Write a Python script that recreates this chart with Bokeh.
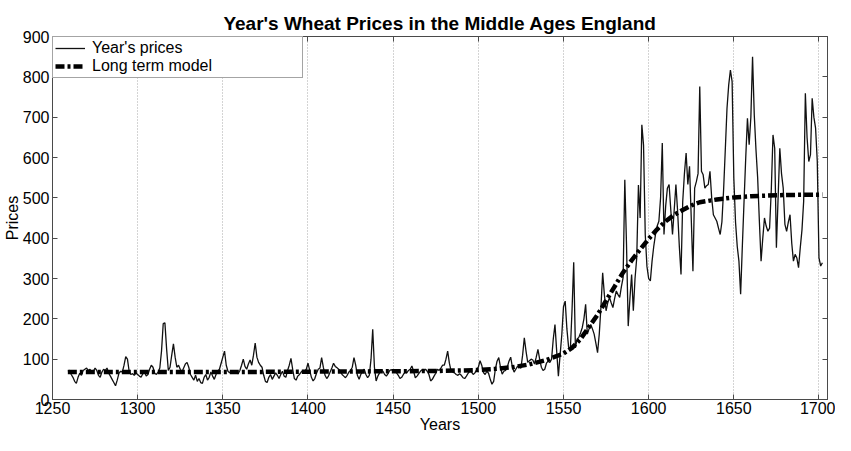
from bokeh.plotting import figure
from bokeh.models import LinearAxis, FixedTicker, Legend, LegendItem, Range1d
from bokeh.embed import file_html
from bokeh.resources import INLINE

# ---------------- data ----------------
first_year = 1259

prices_1259_1299 = [70, 72, 62, 55, 45, 40, 55, 65, 60, 72, 75,
                    78, 72, 75, 65, 70, 78, 72, 60, 55, 68,
                    75, 72, 78, 65, 58, 50, 42, 34, 48, 65,
                    70, 68, 85, 106, 100, 70, 62, 64, 60, 66]

prices_1300s = [62, 58, 55, 64, 70, 58, 62, 75, 85, 80,
                65, 62, 68, 78, 120, 188, 190, 125, 72, 80,
                110, 138, 105, 80, 85, 75, 68, 78, 88, 92,
                80, 62, 55, 48, 60, 45, 52, 42, 40, 55,
                62, 48, 55, 68, 58, 50, 62, 70, 75, 90,
                105, 120, 85, 70, 66, 72, 65, 70, 68, 64,
                72, 85, 100, 82, 75, 88, 98, 85, 110, 140,
                105, 92, 85, 80, 60, 45, 42, 55, 62, 50,
                58, 66, 60, 52, 62, 70, 58, 55, 72, 85,
                102, 75, 52, 48, 58, 62, 68, 72, 70, 75]

prices_1400s = [90, 72, 55, 46, 52, 65, 75, 78, 104, 80,
                60, 52, 58, 68, 78, 90, 82, 79, 75, 71,
                62, 58, 54, 60, 68, 72, 80, 104, 85, 60,
                50, 62, 70, 75, 62, 54, 60, 100, 174, 80,
                46, 58, 66, 72, 70, 62, 58, 64, 72, 74,
                70, 72, 66, 60, 52, 55, 62, 68, 66, 72,
                75, 83, 70, 54, 58, 64, 70, 74, 72, 75,
                70, 62, 46, 50, 58, 65, 75, 72, 78, 85,
                85, 100, 120, 90, 71, 68, 66, 62, 60, 64,
                60, 54, 52, 58, 65, 70, 68, 62, 66, 74]

prices_1500s = [80, 96, 85, 67, 62, 70, 65, 50, 38, 45,
                75, 95, 104, 80, 63, 70, 72, 80, 95, 105,
                80, 68, 75, 82, 80, 78, 110, 153, 120, 92,
                96, 100, 98, 88, 105, 124, 100, 80, 72, 75,
                90, 95, 92, 100, 150, 186, 120, 58, 110, 160,
                230, 244, 175, 130, 121, 220, 340, 128, 150, 154,
                165, 178, 200, 236, 162, 175, 186, 175, 162, 140,
                116, 162, 230, 314, 260, 220, 240, 253, 240, 228,
                250, 269, 260, 253, 280, 302, 545, 384, 182, 250,
                310, 220, 300, 351, 532, 450, 681, 630, 409, 330]

prices_1600s = [300, 294, 343, 380, 409, 430, 442, 500, 636, 409,
                480, 524, 533, 470, 409, 470, 533, 467, 380, 310,
                491, 560, 611, 533, 578, 450, 318, 524, 540, 560,
                776, 566, 557, 524, 530, 533, 566, 500, 458, 450,
                442, 425, 409, 440, 520, 620, 722, 780, 817, 788,
                549, 440, 380, 343, 261, 380, 491, 600, 697, 632,
                700, 850, 706, 620, 549, 442, 343, 400, 450, 430,
                417, 425, 520, 656, 623, 376, 500, 623, 560, 524,
                434, 417, 440, 458, 388, 343, 360, 351, 327, 376,
                420, 491, 759, 650, 590, 607, 747, 700, 673, 590,
                351, 331, 339]

prices = prices_1259_1299 + prices_1300s + prices_1400s + prices_1500s + prices_1600s
years = list(range(first_year, first_year + len(prices)))

model_years = [1259, 1300, 1350, 1400, 1450, 1480, 1500, 1510, 1520, 1530, 1540,
               1550, 1555, 1560, 1565, 1570, 1575, 1580, 1585, 1590, 1595, 1600,
               1605, 1610, 1615, 1620, 1625, 1630, 1640, 1650, 1660, 1680, 1702]
model_values = [68, 68, 68, 69, 70, 71, 73, 76, 80, 87, 98,
                114, 128, 150, 180, 210, 245, 280, 315, 345, 372, 398,
                422, 442, 458, 470, 481, 489, 496, 501, 504, 507, 508]

x_ticks = [1250, 1300, 1350, 1400, 1450, 1500, 1550, 1600, 1650, 1700]
y_ticks = [0, 100, 200, 300, 400, 500, 600, 700, 800, 900]

title_text = "Year's Wheat Prices in the Middle Ages England"
x_label = "Years"
y_label = "Prices"
series_labels = ["Year's prices", "Long term model"]

# ---------------- figure ----------------
FONT = "Liberation Sans"
AX = "#4a4a4a"

p = figure(width=835, height=435, output_backend="svg", toolbar_location=None,
           x_range=Range1d(1250, 1705), y_range=Range1d(0, 900),
           min_border_left=36, min_border_right=8, min_border_top=36, min_border_bottom=30,
           title=title_text)

p.title.text_font = FONT
p.title.text_font_size = "19px"
p.title.text_font_style = "bold"
p.title.align = "center"
p.title.text_color = "black"
p.title.standoff = 5

p.outline_line_color = AX
p.outline_line_alpha = 1.0
p.background_fill_color = "white"
p.border_fill_color = "white"

def style_axis(ax, ticks, show_labels=True):
    ax.ticker = FixedTicker(ticks=ticks)
    ax.axis_line_color = AX
    ax.major_tick_line_color = AX
    ax.major_tick_in = 5
    ax.major_tick_out = 0
    ax.minor_tick_line_color = None
    ax.major_label_text_font = FONT
    ax.major_label_text_color = "black"
    if show_labels:
        ax.major_label_text_font_size = "16px"
        ax.major_label_standoff = 3
    else:
        ax.major_label_text_font_size = "0px"
        ax.major_label_overrides = {t: "" for t in ticks}
        ax.major_label_standoff = 0

style_axis(p.below[0], x_ticks)
style_axis(p.left[0], y_ticks)
p.below[0].major_label_standoff = 2
p.below[0].axis_label = x_label
p.left[0].axis_label = y_label
for ax in (p.below[0], p.left[0]):
    ax.axis_label_text_font = FONT
    ax.axis_label_text_font_size = "16px"
    ax.axis_label_text_font_style = "normal"
    ax.axis_label_text_color = "black"
p.below[0].axis_label_standoff = -1
p.left[0].axis_label_standoff = -1

top_axis = LinearAxis()
style_axis(top_axis, x_ticks, show_labels=False)
p.add_layout(top_axis, "above")
right_axis = LinearAxis()
style_axis(right_axis, y_ticks, show_labels=False)
p.add_layout(right_axis, "right")

p.xgrid.ticker = FixedTicker(ticks=x_ticks)
p.xgrid.grid_line_color = "#a8a8a8"
p.xgrid.grid_line_dash = "1 2"
p.xgrid.grid_line_width = 1
p.ygrid.visible = False

r_data = p.line(years, prices, line_color="#111111", line_width=1.3)
r_model = p.line(model_years, model_values, line_color="black", line_width=4.5,
                 line_dash="9 3 3 3")

legend = Legend(items=[LegendItem(label=series_labels[0], renderers=[r_data]),
                       LegendItem(label=series_labels[1], renderers=[r_model])],
                location="top_left", margin=0, padding=2, spacing=-3,
                glyph_width=30, glyph_height=14, label_height=14,
                label_standoff=7, label_width=208,
                border_line_color=AX, border_line_width=1,
                background_fill_color="white", background_fill_alpha=1.0,
                label_text_font=FONT, label_text_font_size="16px",
                label_text_color="black")
p.add_layout(legend)

open("out.html", "w").write(file_html(p, INLINE))
